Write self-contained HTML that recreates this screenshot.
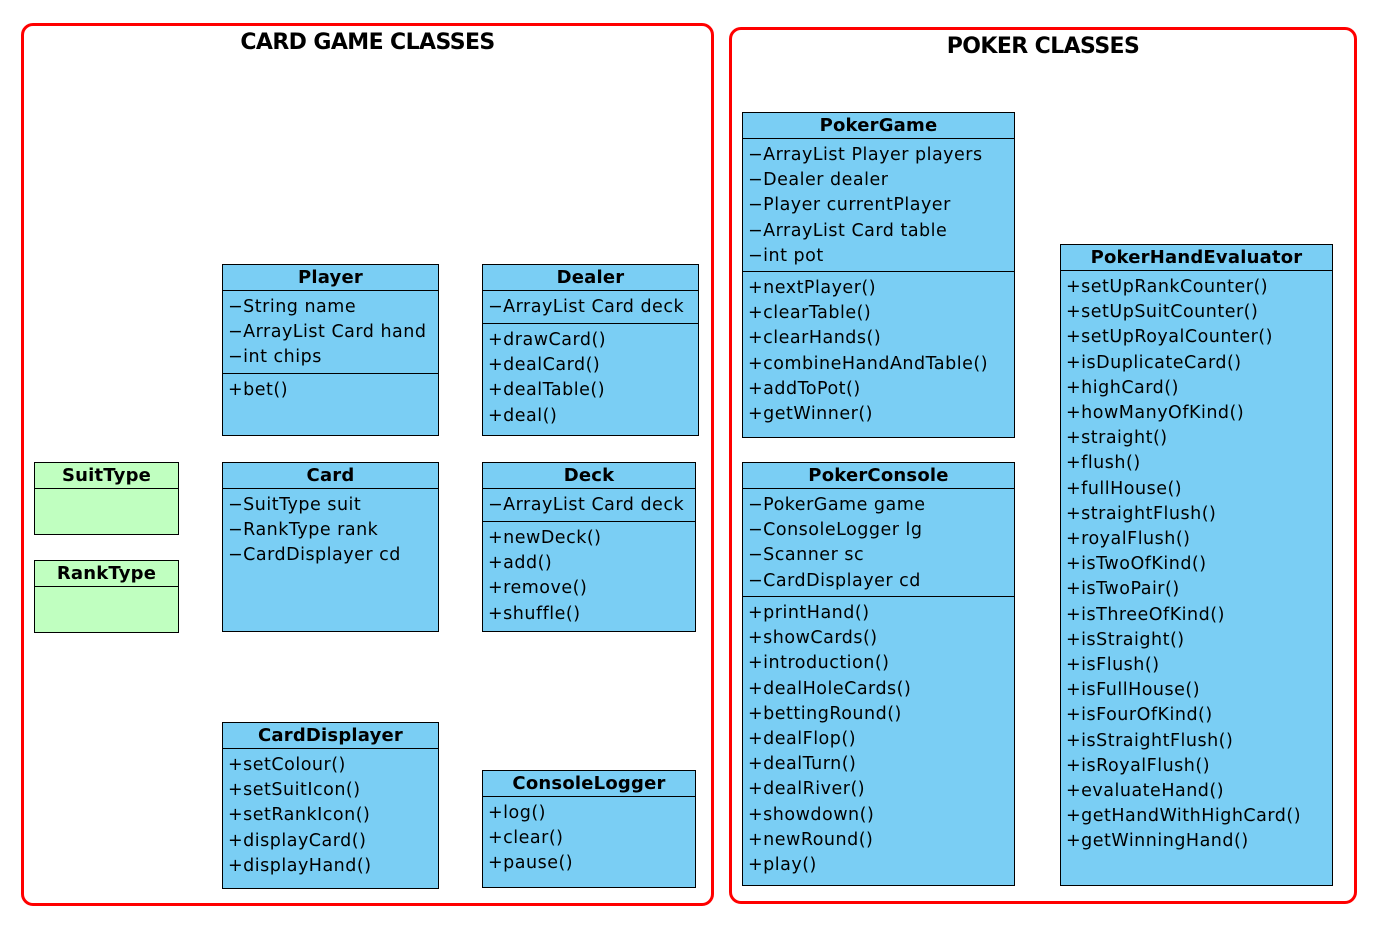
<!DOCTYPE html>
<html><head><meta charset="utf-8"><style>
*{margin:0;padding:0;box-sizing:border-box}
body{width:1386px;height:928px;background:#fff;position:relative;overflow:hidden;font-family:"DejaVu Sans","Liberation Sans",sans-serif}
.frame{position:absolute;border:3px solid #f00;border-radius:12px}
.title{position:absolute;font-weight:bold;font-size:22px;text-align:center;font-family:"DejaVu Sans",sans-serif;letter-spacing:-0.6px}
.box{position:absolute;background:#7acef4;border:1.5px solid #000;font-size:17.5px;line-height:25.2px;letter-spacing:0.5px}
.box.g{background:#c0ffc0}
.h{font-weight:bold;font-size:18px;letter-spacing:0.2px;text-align:center;border-bottom:1.5px solid #000;height:26px;line-height:26px}
.s{padding:4px 0 2px 5px;border-bottom:1.5px solid #000;white-space:nowrap}
.s.last{border-bottom:none}
</style></head><body>
<div class="frame" style="left:21px;top:23px;width:693px;height:883px"></div>
<div class="frame" style="left:729px;top:27px;width:628px;height:877px"></div>
<div class="title" style="left:21px;top:30px;width:693px">CARD GAME CLASSES</div>
<div class="title" style="left:729px;top:34px;width:628px">POKER CLASSES</div>

<div class="box" style="left:222px;top:264px;width:217px;height:172px"><div class="h">Player</div><div class="s" style="height:83px">−String name<br>−ArrayList Card hand<br>−int chips</div><div class="s last">+bet()</div></div>

<div class="box" style="left:482px;top:264px;width:217px;height:172px"><div class="h">Dealer</div><div class="s" style="height:33px">−ArrayList Card deck</div><div class="s last">+drawCard()<br>+dealCard()<br>+dealTable()<br>+deal()</div></div>

<div class="box g" style="left:34px;top:462px;width:145px;height:73px"><div class="h">SuitType</div></div>
<div class="box g" style="left:34px;top:560px;width:145px;height:73px"><div class="h">RankType</div></div>

<div class="box" style="left:222px;top:462px;width:217px;height:170px"><div class="h">Card</div><div class="s last">−SuitType suit<br>−RankType rank<br>−CardDisplayer cd</div></div>

<div class="box" style="left:482px;top:462px;width:214px;height:170px"><div class="h">Deck</div><div class="s" style="height:33px">−ArrayList Card deck</div><div class="s last">+newDeck()<br>+add()<br>+remove()<br>+shuffle()</div></div>

<div class="box" style="left:222px;top:722px;width:217px;height:167px"><div class="h">CardDisplayer</div><div class="s last">+setColour()<br>+setSuitIcon()<br>+setRankIcon()<br>+displayCard()<br>+displayHand()</div></div>

<div class="box" style="left:482px;top:770px;width:214px;height:118px"><div class="h">ConsoleLogger</div><div class="s last">+log()<br>+clear()<br>+pause()</div></div>

<div class="box" style="left:742px;top:112px;width:273px;height:326px"><div class="h">PokerGame</div><div class="s" style="height:133px">−ArrayList Player players<br>−Dealer dealer<br>−Player currentPlayer<br>−ArrayList Card table<br>−int pot</div><div class="s last">+nextPlayer()<br>+clearTable()<br>+clearHands()<br>+combineHandAndTable()<br>+addToPot()<br>+getWinner()</div></div>

<div class="box" style="left:742px;top:462px;width:273px;height:424px"><div class="h">PokerConsole</div><div class="s" style="height:108px">−PokerGame game<br>−ConsoleLogger lg<br>−Scanner sc<br>−CardDisplayer cd</div><div class="s last">+printHand()<br>+showCards()<br>+introduction()<br>+dealHoleCards()<br>+bettingRound()<br>+dealFlop()<br>+dealTurn()<br>+dealRiver()<br>+showdown()<br>+newRound()<br>+play()</div></div>

<div class="box" style="left:1060px;top:244px;width:273px;height:642px"><div class="h">PokerHandEvaluator</div><div class="s last">+setUpRankCounter()<br>+setUpSuitCounter()<br>+setUpRoyalCounter()<br>+isDuplicateCard()<br>+highCard()<br>+howManyOfKind()<br>+straight()<br>+flush()<br>+fullHouse()<br>+straightFlush()<br>+royalFlush()<br>+isTwoOfKind()<br>+isTwoPair()<br>+isThreeOfKind()<br>+isStraight()<br>+isFlush()<br>+isFullHouse()<br>+isFourOfKind()<br>+isStraightFlush()<br>+isRoyalFlush()<br>+evaluateHand()<br>+getHandWithHighCard()<br>+getWinningHand()</div></div>
</body></html>
